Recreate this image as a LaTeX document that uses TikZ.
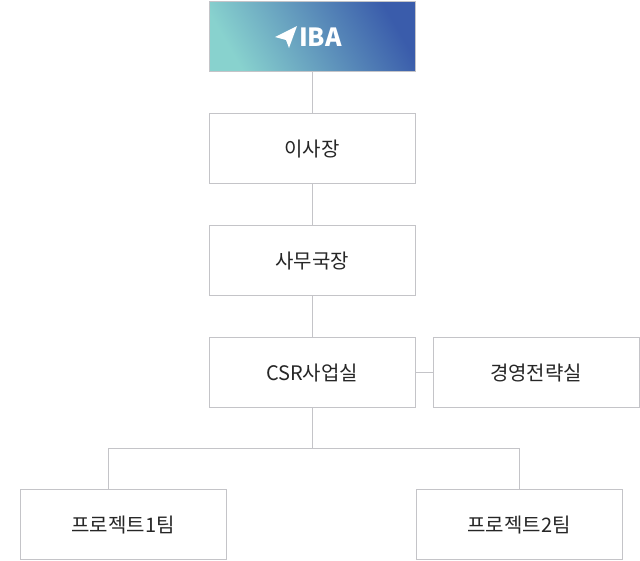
\documentclass[tikz,border=0pt]{standalone}
\usepackage{fontspec}
\setmainfont{Noto Sans CJK KR}
\usetikzlibrary{positioning,calc}
\definecolor{linegray}{HTML}{C4C4C8}
\definecolor{topteal}{HTML}{88D2CE}
\definecolor{botblue}{HTML}{3A5CAB}
\tikzset{
  orgbox/.style={draw=linegray, line width=1.2pt, fill=white, minimum width=206pt, minimum height=70pt, font=\fontsize{20pt}{24pt}\selectfont, text=black!85},
  link/.style={draw=linegray, line width=1.2pt}
}
\begin{document}
\begin{tikzpicture}[x=1pt,y=-1pt]
        \useasboundingbox (0,0) rectangle (640,560);

        \node[orgbox, left color=botblue, right color=topteal, shading angle=300, anchor=north west] (top) at (208.5,0.5) {};
        \node[orgbox, anchor=north west] (chair) at (208.5,113) {이사장};
        \node[orgbox, anchor=north west] (sec) at (208.5,225) {사무국장};
        \node[orgbox, anchor=north west] (csr) at (208.5,337) {CSR사업실};
        \node[orgbox, anchor=north west] (mgmt) at (432.5,337) {경영전략실};
        \node[orgbox, anchor=north west] (team1) at (19.5,489) {프로젝트1팀};
        \node[orgbox, anchor=north west] (team2) at (415.5,489) {프로젝트2팀};

        % logo
        \fill[white] (275,37) -- (297,26) -- (289,48) -- (286,40) -- cycle;
        \node[font=\bfseries\fontsize{25pt}{28pt}\selectfont, text=white, anchor=west, inner sep=0pt] (logo) at (299,37) {IBA};

        \draw[link] (top) -- (chair);
        \draw[link] (chair) -- (sec);
        \draw[link] (sec) -- (csr);
        \draw[link] (csr) -- (mgmt);
        \coordinate (split) at ($(csr.south)+(0,40)$);
        \coordinate (drop1) at ($(team1.north)+(-15,0)$);
        \draw[link] (csr.south) -- (split) -| (drop1);
        \draw[link] (split) -| (team2.north);
\end{tikzpicture}
\end{document}
